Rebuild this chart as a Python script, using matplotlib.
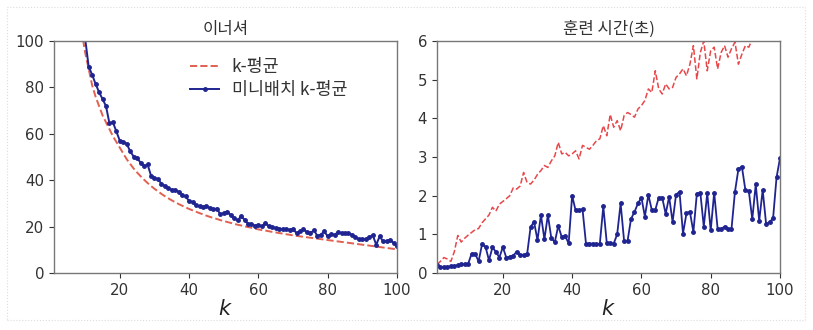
import matplotlib
matplotlib.use("Agg")
import matplotlib.pyplot as plt
from matplotlib.patches import Rectangle

# ---- data ----
k_values = list(range(1, 101))

inertia_kmeans = [
    900, 460, 310, 230, 185, 155, 133, 117, 104, 95,
    88, 81, 76, 72, 68, 65, 62, 59, 56.5, 54,
    51.5, 49, 47, 45, 43.3, 41.7, 40.2, 38.8, 37.5, 36.3,
    35.2, 34.1, 33.1, 32.2, 31.3, 30.5, 29.7, 29.0, 28.3, 27.6,
    27.0, 26.4, 25.8, 25.3, 24.7, 24.2, 23.7, 23.3, 22.8, 22.4,
    22.0, 21.6, 21.2, 20.8, 20.5, 20.1, 19.8, 19.5, 19.1, 18.8,
    18.5, 18.3, 18.0, 17.7, 17.5, 17.2, 17.0, 16.7, 16.5, 16.2,
    16.0, 15.8, 15.6, 15.4, 15.2, 15.0, 14.8, 14.6, 14.4, 14.2,
    14.0, 13.8, 13.6, 13.4, 13.2, 13.0, 12.8, 12.6, 12.4, 12.2,
    12.0, 11.8, 11.6, 11.4, 11.2, 11.0, 10.8, 10.6, 10.4, 10.2,
]

inertia_minibatch = [
    650, 450, 320, 250, 200, 165, 140, 122, 108, 101,
    89, 85.5, 81.5, 78, 75, 72, 64.5, 65, 61, 57,
    56.5, 55.7, 52.4, 50.2, 49.6, 47.5, 46, 46.8, 42, 40.9,
    40.5, 38.5, 37.5, 36.5, 35.9, 35.8, 35, 33.5, 33, 31,
    30.6, 29.2, 28.7, 28.4, 29, 28, 27.4, 27.8, 25.3, 25.8,
    26.5, 25, 23.7, 22.7, 24.4, 23, 21.2, 21.2, 20.3, 20.8,
    20.1, 21.5, 20.1, 19.8, 19.4, 19.1, 18.9, 18.9, 18.7, 18.9,
    17.2, 17.9, 18.9, 17.6, 17.2, 18.4, 16.1, 16.5, 17.9, 15.8,
    16.8, 16.5, 17.6, 17.2, 17.2, 17.2, 16.5, 15.5, 14.6, 14.6,
    14.6, 15.5, 16.3, 12.2, 15.8, 13.6, 13.6, 14.3, 12.9, 11.5,
]

time_kmeans = [
    0.22, 0.30, 0.40, 0.36, 0.30, 0.55, 0.97, 0.80, 0.90, 0.98,
    1.05, 1.12, 1.15, 1.30, 1.40, 1.50, 1.70, 1.60, 1.78, 1.85,
    1.92, 2.00, 2.20, 2.17, 2.25, 2.60, 2.34, 2.30, 2.40, 2.55,
    2.65, 2.78, 2.73, 2.90, 3.03, 3.38, 3.08, 3.12, 3.03, 3.08,
    3.16, 2.95, 3.30, 3.25, 3.20, 3.30, 3.42, 3.47, 3.81, 3.55,
    4.10, 3.77, 3.94, 3.68, 4.07, 4.15, 4.10, 4.03, 4.24, 4.33,
    4.46, 4.76, 4.67, 5.23, 4.76, 4.63, 4.89, 4.76, 4.80, 5.06,
    5.15, 5.28, 5.10, 5.40, 5.88, 5.02, 5.70, 6.00, 5.23, 5.75,
    5.84, 5.28, 5.70, 5.88, 5.58, 5.80, 5.97, 5.40, 5.66, 5.88,
    5.84, 6.05, 6.10, 6.20, 6.15, 6.30, 6.35, 6.30, 6.50, 6.55,
]

time_minibatch = [
    0.20, 0.15, 0.15, 0.16, 0.17, 0.18, 0.20, 0.22, 0.22, 0.24,
    0.50, 0.50, 0.30, 0.74, 0.68, 0.33, 0.66, 0.55, 0.40, 0.67,
    0.40, 0.42, 0.45, 0.55, 0.47, 0.46, 0.48, 1.18, 1.33, 0.85,
    1.50, 0.87, 1.50, 0.90, 0.80, 1.22, 0.93, 0.95, 0.77, 2.00,
    1.62, 1.62, 1.65, 0.76, 0.76, 0.76, 0.74, 0.76, 1.72, 0.78,
    0.78, 0.76, 1.00, 1.80, 0.83, 0.83, 1.40, 1.58, 1.80, 1.95,
    1.46, 2.02, 1.63, 1.63, 1.95, 1.95, 1.53, 1.97, 1.32, 2.03,
    2.10, 1.02, 1.54, 1.58, 1.06, 2.05, 2.08, 1.20, 2.06, 1.10,
    2.08, 1.14, 1.14, 1.20, 1.14, 1.14, 2.10, 2.69, 2.75, 2.15,
    2.12, 1.39, 2.29, 1.35, 2.15, 1.26, 1.32, 1.41, 2.47, 2.97,
]

titles = ["이너셔", "훈련 시간(초)"]
labels = ["k-평균", "미니배치 k-평균"]
xlabel = "$k$"

# ---- styling ----
W, H = 813, 330
kr_font = ["Noto Sans CJK KR", "DejaVu Sans"]
red_l = "#e2604f"
red_r = "#e8474a"
blue = "#1f2490"
spine_col = "#777777"
tick_col = "#333333"

plt.rcParams["font.family"] = ["DejaVu Sans", "Noto Sans CJK KR"]
plt.rcParams["mathtext.fontset"] = "dejavusans"

fig = plt.figure(figsize=(W / 100, H / 100), dpi=100)
fig.patch.set_facecolor("white")

def ax_rect(x0, x1, y_top, y_bot):
    return [x0 / W, 1 - y_bot / H, (x1 - x0) / W, (y_bot - y_top) / H]

ax1 = fig.add_axes(ax_rect(54, 397, 41, 273))
ax2 = fig.add_axes(ax_rect(437, 780, 41, 273))

ax1.plot(k_values, inertia_kmeans, "--", color=red_l, lw=1.4, label=labels[0])
ax1.plot(k_values, inertia_minibatch, ".-", color=blue, lw=1.4, ms=5, label=labels[1])
ax1.set_xlim(1, 100)
ax1.set_ylim(0, 100)
ax1.set_yticks([0, 20, 40, 60, 80, 100])
ax1.set_xticks([20, 40, 60, 80, 100])
leg = ax1.legend(loc="upper right", bbox_to_anchor=(0.9, 0.995), frameon=False,
                 prop={"family": kr_font, "size": 12.5}, labelspacing=0.3,
                 handlelength=1.7, handletextpad=0.7)
for t in leg.get_texts():
    t.set_color("#333333")

ax2.plot(k_values, time_kmeans, "--", color=red_r, lw=1.1)
ax2.plot(k_values, time_minibatch, ".-", color=blue, lw=1.3, ms=5)
ax2.set_xlim(1, 100)
ax2.set_ylim(0, 6)
ax2.set_yticks([0, 1, 2, 3, 4, 5, 6])
ax2.set_xticks([20, 40, 60, 80, 100])

for ax, title in zip([ax1, ax2], titles):
    ax.set_title(title, family=kr_font, fontsize=12, color="#333333", pad=5)
    ax.set_xlabel(xlabel, fontsize=15, color="#222222", labelpad=1)
    for s in ax.spines.values():
        s.set_color(spine_col)
        s.set_linewidth(1.0)
    ax.tick_params(labelsize=10.8, colors=tick_col, length=3.5, width=0.8,
                   direction="out")

# light dotted frame around the whole picture
fig.patches.append(Rectangle((7 / W, 1 - 320 / H), (805 - 7) / W, (320 - 7) / H,
                             transform=fig.transFigure, fill=False,
                             edgecolor="#dddddd", lw=0.8, ls=":"))

fig.savefig("out.png", dpi=100)
